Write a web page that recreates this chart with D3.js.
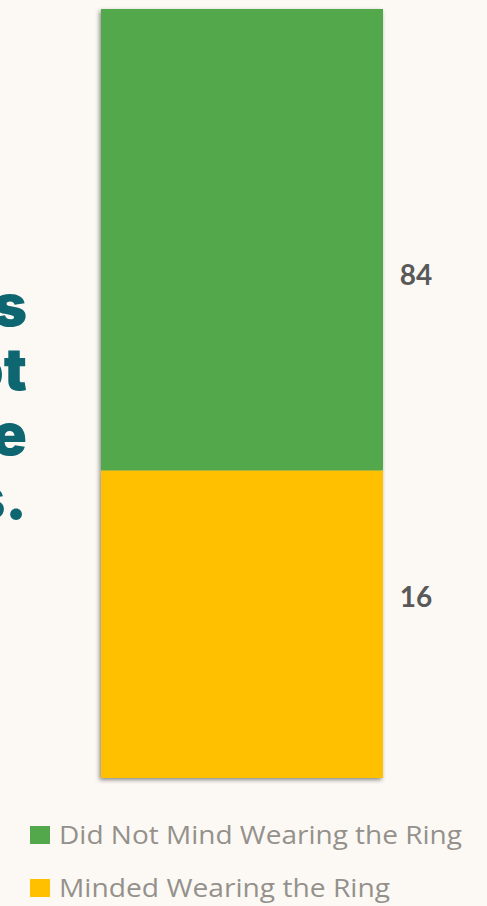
<!DOCTYPE html>
<html>
<head>
<meta charset="utf-8">
<script src="https://cdn.jsdelivr.net/npm/d3@7"></script>
<style>
  html, body { margin: 0; padding: 0; background: #fcf9f5; }
  svg { display: block; }
</style>
</head>
<body>
<svg id="chart" width="487" height="906"></svg>
<script>
// ---- data ----
const categories = ["Ring study"];
const seriesNames = ["Minded Wearing the Ring", "Did Not Mind Wearing the Ring"];
const mindedValues = [16];
const notMindedValues = [84];
const seriesColors = ["#ffc000", "#53a84b"];
const yAxisMax = 40; // chart's axis maximum (bar overflows and is clipped)
const titleLines = ["Most participants", "did not", "mind wearing the", "rings."];
const legendOrder = ["Did Not Mind Wearing the Ring", "Minded Wearing the Ring"];

// ---- setup ----
const W = 487, H = 906;
const svg = d3.select("#chart");
svg.append("rect").attr("width", W).attr("height", H).attr("fill", "#fcf9f5");

const defs = svg.append("defs");
const f = defs.append("filter").attr("id", "shadow")
  .attr("x", "-10%").attr("y", "-10%").attr("width", "120%").attr("height", "120%");
f.append("feDropShadow").attr("dx", -1.5).attr("dy", 2).attr("stdDeviation", 2.2)
  .attr("flood-color", "#000").attr("flood-opacity", 0.45);

// title (cropped at left edge, as in the reference)
const title = svg.append("text")
  .attr("font-family", "Inter, 'Open Sans', sans-serif")
  .attr("font-weight", 900)
  .attr("font-size", 58)
  .attr("fill", "#0d6670")
  .attr("text-anchor", "end");
const titleBaselines = [326, 390, 455, 519];
titleLines.forEach((t, i) => {
  title.append("tspan").attr("x", 27).attr("y", titleBaselines[i]).text(t);
});

// scales
const x = d3.scaleBand().domain(categories).range([101, 383]).padding(0);
const y = d3.scaleLinear().domain([0, yAxisMax]).range([778, 9]).clamp(true);

const rows = categories.map((c, i) => ({
  cat: c,
  "Minded Wearing the Ring": mindedValues[i],
  "Did Not Mind Wearing the Ring": notMindedValues[i]
}));
const stack = d3.stack().keys(seriesNames)(rows);
const color = d3.scaleOrdinal().domain(seriesNames).range(seriesColors);

// bar group with shadow
const barG = svg.append("g").attr("filter", "url(#shadow)");
stack.forEach(layer => {
  barG.selectAll(null).data(layer).enter().append("rect")
    .attr("x", d => x(d.data.cat))
    .attr("width", x.bandwidth())
    .attr("y", d => y(d[1]))
    .attr("height", d => y(d[0]) - y(d[1]))
    .attr("fill", color(layer.key));
});

// value labels
const labelFrac = { "Minded Wearing the Ring": 0.445, "Did Not Mind Wearing the Ring": 0.598 };
stack.forEach(layer => {
  svg.selectAll(null).data(layer).enter().append("text")
    .attr("x", x(layer[0].data.cat) + x.bandwidth() + 33)
    .attr("y", d => y(d[1]) + (y(d[0]) - y(d[1])) * labelFrac[layer.key])
    .attr("text-anchor", "middle")
    .attr("font-family", "Lato, 'Open Sans', sans-serif")
    .attr("font-weight", 700)
    .attr("font-size", 28)
    .attr("fill", "#595959")
    .text(d => d[1] - d[0]);
});

// legend
const legendY = [826, 879];
const legendLen = [403, 331];
legendOrder.forEach((name, i) => {
  const g = svg.append("g");
  g.append("rect").attr("x", 30).attr("y", legendY[i])
    .attr("width", 20).attr("height", 18).attr("fill", color(name));
  g.append("text").attr("x", 59).attr("y", legendY[i] + 18)
    .attr("font-family", "'Open Sans', sans-serif")
    .attr("font-size", 25)
    .attr("fill", "#94918c")
    .attr("textLength", legendLen[i])
    .attr("lengthAdjust", "spacingAndGlyphs")
    .text(name);
});
</script>
</body>
</html>
